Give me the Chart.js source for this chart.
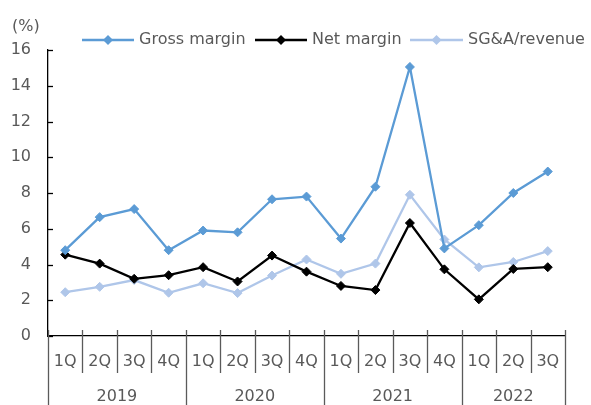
<!DOCTYPE html>
<html>
<head>
<meta charset="utf-8">
<script src="https://cdn.jsdelivr.net/npm/chart.js@4.4.1/dist/chart.umd.min.js"></script>
<style>
  html, body { margin: 0; padding: 0; background: #ffffff; }
  canvas { display: block; }
</style>
</head>
<body>
<canvas id="chart" width="591" height="405"></canvas>
<script>
// Quarterly margins, %
const quarters = ['1Q','2Q','3Q','4Q','1Q','2Q','3Q','4Q','1Q','2Q','3Q','4Q','1Q','2Q','3Q'];
const years = ['2019', '2020', '2021', '2022'];
const quartersPerYear = [4, 4, 4, 3];
const grossMargin = [4.8, 6.65, 7.1, 4.8, 5.9, 5.8, 7.65, 7.8, 5.45, 8.35, 15.05, 4.9, 6.2, 8.0, 9.2];
const netMargin   = [4.55, 4.05, 3.2, 3.4, 3.85, 3.05, 4.5, 3.6, 2.8, 2.57, 6.32, 3.73, 2.05, 3.75, 3.85];
const sgaRevenue  = [2.45, 2.75, 3.13, 2.42, 2.95, 2.4, 3.38, 4.28, 3.48, 4.05, 7.9, 5.4, 3.84, 4.14, 4.75];
const yMin = 0, yMax = 16, yStep = 2;
const unitLabel = '(%)';

const FONT = '"DejaVu Sans", Verdana, sans-serif';
const TEXT = '#595959';

function series(label, data, color) {
  return {
    label, data,
    borderColor: color,
    backgroundColor: color,
    borderWidth: 2.3,
    pointStyle: 'rectRot',
    pointRadius: 4.5,
    pointBorderWidth: 1,
    pointHoverRadius: 4.5,
    tension: 0,
    fill: false
  };
}

// Axis decorations, two-level category labels, legend
const decor = {
  id: 'decor',
  afterDraw(chart) {
    const { ctx, chartArea: a, scales: { x, y } } = chart;
    ctx.save();

    // unit label above the value axis
    ctx.fillStyle = TEXT;
    ctx.font = '16px ' + FONT;
    ctx.textAlign = 'left';
    ctx.textBaseline = 'middle';
    ctx.fillText(unitLabel, 12, 27);

    // inside tick marks on the value axis
    ctx.strokeStyle = '#000';
    ctx.lineWidth = 1.3;
    for (let v = yMin; v <= yMax; v += yStep) {
      const py = Math.round(y.getPixelForValue(v)) + 0.5;
      ctx.beginPath();
      ctx.moveTo(a.left, py);
      ctx.lineTo(a.left + 5, py);
      ctx.stroke();
    }

    // category separators: short between quarters, long between years
    const n = quarters.length;
    const half = (x.getPixelForValue(1) - x.getPixelForValue(0)) / 2;
    const yearBounds = new Set([0]);
    let acc = 0;
    quartersPerYear.forEach(q => { acc += q; yearBounds.add(acc); });
    ctx.strokeStyle = '#5a5a5a';
    ctx.lineWidth = 1.3;
    for (let i = 0; i <= n; i++) {
      const px = Math.round(i < n ? x.getPixelForValue(i) - half : x.getPixelForValue(n - 1) + half) + 0.5;
      ctx.beginPath();
      ctx.moveTo(px, a.bottom - 6);
      ctx.lineTo(px, yearBounds.has(i) ? chart.height : a.bottom + 37);
      ctx.stroke();
    }

    // year labels centred under their quarters
    ctx.fillStyle = TEXT;
    ctx.textAlign = 'center';
    ctx.textBaseline = 'middle';
    let start = 0;
    years.forEach((yr, k) => {
      const end = start + quartersPerYear[k] - 1;
      const cx = (x.getPixelForValue(start) + x.getPixelForValue(end)) / 2;
      ctx.fillText(yr, cx, 397);
      start = end + 1;
    });

    // legend: line sample with marker, then label
    const legendY = 40;
    const items = [
      { x0: 82, x1: 134 },
      { x0: 255, x1: 307 },
      { x0: 410, x1: 463 }
    ];
    chart.data.datasets.forEach((ds, i) => {
      const it = items[i];
      ctx.strokeStyle = ds.borderColor;
      ctx.lineWidth = 2.3;
      ctx.beginPath();
      ctx.moveTo(it.x0, legendY);
      ctx.lineTo(it.x1, legendY);
      ctx.stroke();
      const cx = (it.x0 + it.x1) / 2;
      ctx.fillStyle = ds.backgroundColor;
      ctx.beginPath();
      ctx.moveTo(cx, legendY - 5);
      ctx.lineTo(cx + 5, legendY);
      ctx.lineTo(cx, legendY + 5);
      ctx.lineTo(cx - 5, legendY);
      ctx.closePath();
      ctx.fill();
      ctx.fillStyle = TEXT;
      ctx.textAlign = 'left';
      ctx.textBaseline = 'middle';
      ctx.fillText(ds.label, it.x1 + 5, legendY);
    });

    ctx.restore();
  }
};

new Chart(document.getElementById('chart'), {
  type: 'line',
  data: {
    labels: quarters,
    datasets: [
      series('Gross margin', grossMargin, '#5B9BD5'),
      series('Net margin', netMargin, '#000000'),
      series('SG&A/revenue', sgaRevenue, '#AFC6E9')
    ]
  },
  options: {
    responsive: false,
    animation: false,
    layout: { padding: { top: 50, right: 26, left: 0, bottom: 0 } },
    plugins: {
      legend: { display: false },
      tooltip: { enabled: false }
    },
    scales: {
      x: {
        type: 'category',
        offset: true,
        grid: { display: false },
        border: { display: true, color: '#000', width: 1.3 },
        ticks: {
          color: TEXT,
          font: { family: FONT, size: 16 },
          padding: 8,
          maxRotation: 0,
          autoSkip: false
        },
        afterFit(scale) { scale.height = 69; }
      },
      y: {
        min: yMin,
        max: yMax,
        grid: { display: false },
        border: { display: true, color: '#000', width: 1.3 },
        ticks: {
          stepSize: yStep,
          color: TEXT,
          font: { family: FONT, size: 16 },
          padding: 9
        },
        afterFit(scale) { scale.width = 48; }
      }
    }
  },
  plugins: [decor]
});
</script>
</body>
</html>
